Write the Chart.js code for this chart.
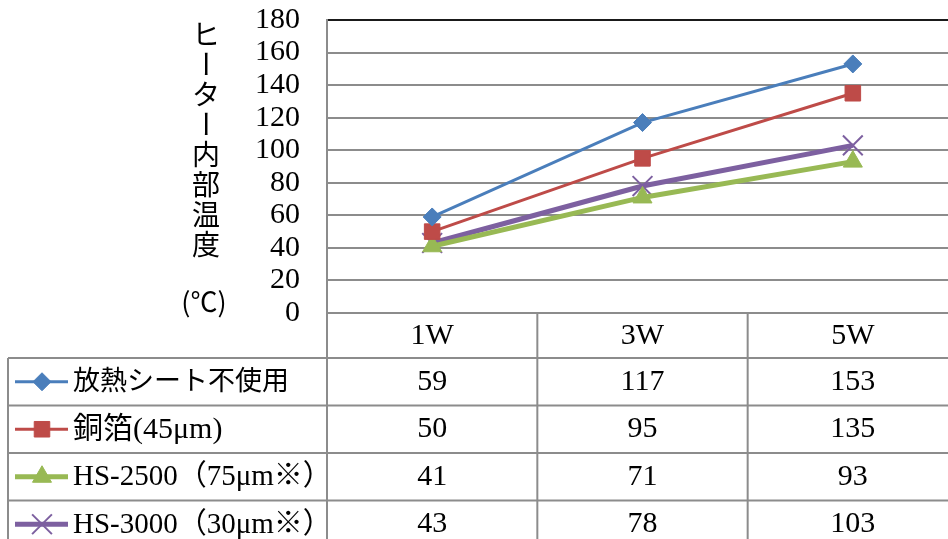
<!DOCTYPE html>
<html>
<head>
<meta charset="utf-8">
<script src="https://cdn.jsdelivr.net/npm/chart.js@4"></script>
<style>
  html, body { margin: 0; padding: 0; background: #fff; overflow: hidden; }
  #wrap { width: 960px; height: 539px; }
</style>
</head>
<body>
<div id="wrap"><canvas id="chart" width="960" height="539"></canvas></div>
<script>
// data
const categories = ['1W', '3W', '5W'];
const seriesNames = ['放熱シート不使用', '銅箔(45μm)', 'HS-2500（75μm※）', 'HS-3000（30μm※）'];
const noSheet = [59, 117, 153];
const copperFoil = [50, 95, 135];
const hs2500 = [41, 71, 93];
const hs3000 = [43, 78, 103];
const yMax = 180;
const yStep = 20;
const yTitleChars = ['ヒ', 'ー', 'タ', 'ー', '内', '部', '温', '度'];
const yUnit = '(℃)';

const serif = '"Liberation Serif", "Noto Sans CJK JP", serif';
const gothic = '"Noto Sans CJK JP", sans-serif';
const gridColor = '#8c8c8c';

function makeSet(label, data, color, style, radius, lineWidth, pointBorder) {
    return {
        label: label,
        data: data,
        borderColor: color,
        backgroundColor: color,
        borderWidth: lineWidth,
        pointStyle: style,
        pointRadius: radius,
        pointHoverRadius: radius,
        pointBorderWidth: pointBorder,
        tension: 0
    };
}

const datasets = [
    makeSet(seriesNames[0], noSheet, '#4a7ebb', 'rectRot', 9, 3, 1),
    makeSet(seriesNames[1], copperFoil, '#be4b48', 'rect', 11, 3, 1),
    makeSet(seriesNames[2], hs2500, '#98b954', 'triangle', 11, 5, 1),
    makeSet(seriesNames[3], hs3000, '#7d60a0', 'crossRot', 14, 5, 2)
];
const labelFonts = ['27px ', '30px ', '29px ', '29px '];

// data table under the plot + the stacked y title
const tablePlugin = {
    id: 'dataTable',
    afterDraw(chart) {
        const ctx = chart.ctx;
        const area = chart.chartArea;
        const x = chart.scales.x;
        const centers = categories.map((c, i) => x.getPixelForValue(i));
        const bounds = [area.left];
        for (let i = 0; i < centers.length - 1; i++) bounds.push((centers[i] + centers[i + 1]) / 2);
        bounds.push(area.right);

        const headerBottom = area.bottom + 45;
        const rowH = 47.5;
        const tableLeft = 8;
        const bottom = chart.height;

        ctx.save();
        ctx.strokeStyle = gridColor;
        ctx.lineWidth = 2;
        ctx.beginPath();
        bounds.forEach(b => { ctx.moveTo(b, area.bottom); ctx.lineTo(b, bottom); });
        ctx.moveTo(tableLeft, headerBottom);
        ctx.lineTo(tableLeft, bottom);
        for (let r = 0; r < datasets.length; r++) {
            const yy = headerBottom + r * rowH;
            ctx.moveTo(tableLeft, yy);
            ctx.lineTo(chart.width, yy);
        }
        ctx.stroke();

        ctx.fillStyle = '#000';
        ctx.textAlign = 'center';
        ctx.textBaseline = 'middle';
        ctx.font = '30px ' + serif;
        categories.forEach((c, i) => ctx.fillText(c, centers[i], area.bottom + 23));

        datasets.forEach((ds, r) => {
            const cy = headerBottom + r * rowH + rowH / 2;
            ctx.fillStyle = '#000';
            ctx.textAlign = 'center';
            ctx.font = '30px ' + serif;
            ds.data.forEach((v, i) => ctx.fillText(String(v), centers[i], cy));

            // legend key
            ctx.strokeStyle = ds.borderColor;
            ctx.lineWidth = ds.borderWidth;
            ctx.beginPath();
            ctx.moveTo(15, cy);
            ctx.lineTo(68, cy);
            ctx.stroke();
            ctx.fillStyle = ds.backgroundColor;
            ctx.lineWidth = ds.pointBorderWidth;
            Chart.helpers.drawPoint(ctx, {
                pointStyle: ds.pointStyle,
                radius: ds.pointRadius,
                borderWidth: ds.pointBorderWidth,
                rotation: 0
            }, 42, cy);

            ctx.fillStyle = '#000';
            ctx.textAlign = 'left';
            ctx.font = labelFonts[r] + serif;
            ctx.fillText(ds.label, 73, cy + 1);
        });

        // vertical y-axis title
        ctx.fillStyle = '#000';
        ctx.textAlign = 'center';
        ctx.textBaseline = 'middle';
        ctx.font = '28px ' + gothic;
        yTitleChars.forEach((ch, i) => {
            const cy = 34 + i * 30;
            if (ch === 'ー') {
                ctx.save();
                ctx.translate(206, cy);
                ctx.rotate(Math.PI / 2);
                ctx.fillText(ch, 0, 0);
                ctx.restore();
            } else {
                ctx.fillText(ch, 206, cy);
            }
        });
        ctx.font = '27px ' + gothic;
        ctx.fillText(yUnit, 204, 302);
        ctx.restore();
    }
};

const chart = new Chart(document.getElementById('chart'), {
    type: 'line',
    data: { labels: categories, datasets: datasets },
    options: {
        responsive: false,
        animation: false,
        // canvas is a bit wider than the picture; the plot runs past its right edge
        layout: { autoPadding: false, padding: { left: 0, top: 20, right: 2, bottom: 0 } },
        plugins: {
            legend: { display: false },
            tooltip: { enabled: false }
        },
        scales: {
            x: {
                offset: true,
                grid: { display: false, drawTicks: false },
                border: { display: true, color: gridColor, width: 2 },
                ticks: { display: false },
                afterFit(scale) { scale.height = 226; }
            },
            y: {
                min: 0,
                max: yMax,
                grid: {
                    drawTicks: false,
                    lineWidth: 2,
                    color: c => (c.tick && c.tick.value === yMax) ? '#1a1a1a' : gridColor
                },
                border: { display: true, color: gridColor, width: 2 },
                ticks: {
                    stepSize: yStep,
                    autoSkip: false,
                    padding: 27,
                    color: '#000',
                    font: { family: serif, size: 30 }
                },
                afterFit(scale) {
                    scale.width = 327;
                    scale.paddingTop = 10;
                    scale.paddingBottom = 10;
                }
            }
        }
    },
    plugins: [tablePlugin]
});
</script>
</body>
</html>
